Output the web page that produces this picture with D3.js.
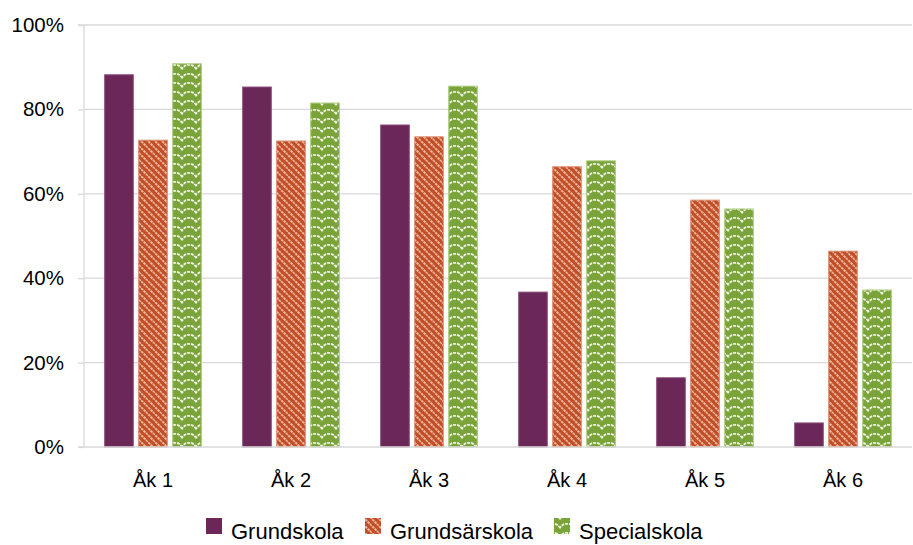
<!DOCTYPE html>
<html><head><meta charset="utf-8">
<script src="https://cdn.jsdelivr.net/npm/d3@7"></script>
<style>body{margin:0;background:#fff;} svg{display:block;font-family:"Liberation Sans",Arial,sans-serif;}</style>
</head><body>
<svg id="c" width="913" height="545"></svg>
<script>
const categories = ["Åk 1","Åk 2","Åk 3","Åk 4","Åk 5","Åk 6"];
const seriesNames = ["Grundskola","Grundsärskola","Specialskola"];
const grundskola = [0.882, 0.853, 0.763, 0.367, 0.164, 0.057];
const grundsarskola = [0.727, 0.725, 0.735, 0.664, 0.585, 0.464];
const specialskola = [0.908, 0.815, 0.855, 0.678, 0.564, 0.372];
const yTicks = [0, 0.2, 0.4, 0.6, 0.8, 1.0];

const seriesValues = [grundskola, grundsarskola, specialskola];
const svg = d3.select("#c");
const defs = svg.append("defs");

// stripe pattern (orange)
const p1 = defs.append("pattern").attr("id","stripes").attr("patternUnits","userSpaceOnUse")
  .attr("width",7).attr("height",7);
p1.append("rect").attr("width",7).attr("height",7).attr("fill","#C24E28");
p1.append("path").attr("d","M-1,-1 L8,8 M-4,3 L3,10 M3,-4 L10,3")
  .attr("stroke","#EDB89E").attr("stroke-width",2).attr("stroke-dasharray","2.5,0.8");
// wave pattern (green)
const p2 = defs.append("pattern").attr("id","waves").attr("patternUnits","userSpaceOnUse")
  .attr("width",14).attr("height",9);
p2.append("rect").attr("width",14).attr("height",9).attr("fill","#7AA33A");
p2.append("path").attr("d","M-1,7 Q3,1 7,2 Q11,1 15,7")
  .attr("fill","none").attr("stroke","#F0F5E4").attr("stroke-width",1.8).attr("stroke-dasharray","3,1");

const fills = ["#6B2757","url(#stripes)","url(#waves)"];
const strokes = ["#8A4A78","#D98A6A","#A8C878"];
const legendFills = ["#6B2757","url(#stripes)","url(#waves)"];

const mLeft = 84, mRight = 912, mTop = 25, mBottom = 447;
const x0 = d3.scaleBand().domain(categories).range([mLeft, mRight]).paddingInner(0.3).paddingOuter(0.15);
const x1 = d3.scaleBand().domain(seriesNames).range([0, x0.bandwidth()]).paddingInner(0.16);
const y = d3.scaleLinear().domain([0,1]).range([mBottom, mTop]);

// gridlines
svg.append("g").selectAll("line").data(yTicks.slice(1)).join("line")
  .attr("x1", mLeft).attr("x2", mRight).attr("y1", d=>y(d)).attr("y2", d=>y(d))
  .attr("stroke","#D9D9D9").attr("stroke-width",1.3);

// y axis
const ya = svg.append("g").attr("transform",`translate(${mLeft},0)`)
  .call(d3.axisLeft(y).tickValues(yTicks).tickFormat(d3.format(".0%")).tickSize(6).tickPadding(14));
ya.select(".domain").attr("stroke","#D9D9D9").attr("stroke-width",1.3).attr("d",`M-6,${mTop}H0V${mBottom}H-6`);
ya.selectAll(".tick line").attr("stroke","#D9D9D9").attr("stroke-width",1.3);
ya.selectAll(".tick text").attr("font-size",20.5).attr("fill","#000").attr("font-family","Liberation Sans, Arial, sans-serif");

// bars
const g = svg.append("g");
seriesNames.forEach((s, si) => {
  g.append("g").selectAll("rect").data(categories).join("rect")
    .attr("x", c => x0(c) + x1(s))
    .attr("y", (c,i) => y(seriesValues[si][i]))
    .attr("width", x1.bandwidth())
    .attr("height", (c,i) => mBottom - y(seriesValues[si][i]))
    .attr("fill", fills[si]).attr("stroke", strokes[si]).attr("stroke-width",1);
});

// x axis
const xa = svg.append("g").attr("transform",`translate(0,${mBottom})`)
  .call(d3.axisBottom(x0).tickSize(0).tickPadding(26));
xa.select(".domain").attr("stroke","#D9D9D9").attr("stroke-width",1.3).attr("d",`M${mLeft},0H${mRight}`);
xa.selectAll(".tick text").attr("font-size",20).attr("fill","#000").attr("font-family","Liberation Sans, Arial, sans-serif");

// legend
const legendX = [206, 365, 554];
const lg = svg.append("g");
seriesNames.forEach((s, i) => {
  lg.append("rect").attr("x", legendX[i]).attr("y", 518).attr("width",16).attr("height",16)
    .attr("fill", legendFills[i]);
  lg.append("text").attr("x", legendX[i] + 25).attr("y", 539).attr("font-size",22)
    .attr("fill","#000").text(s);
});
</script>
</body></html>
